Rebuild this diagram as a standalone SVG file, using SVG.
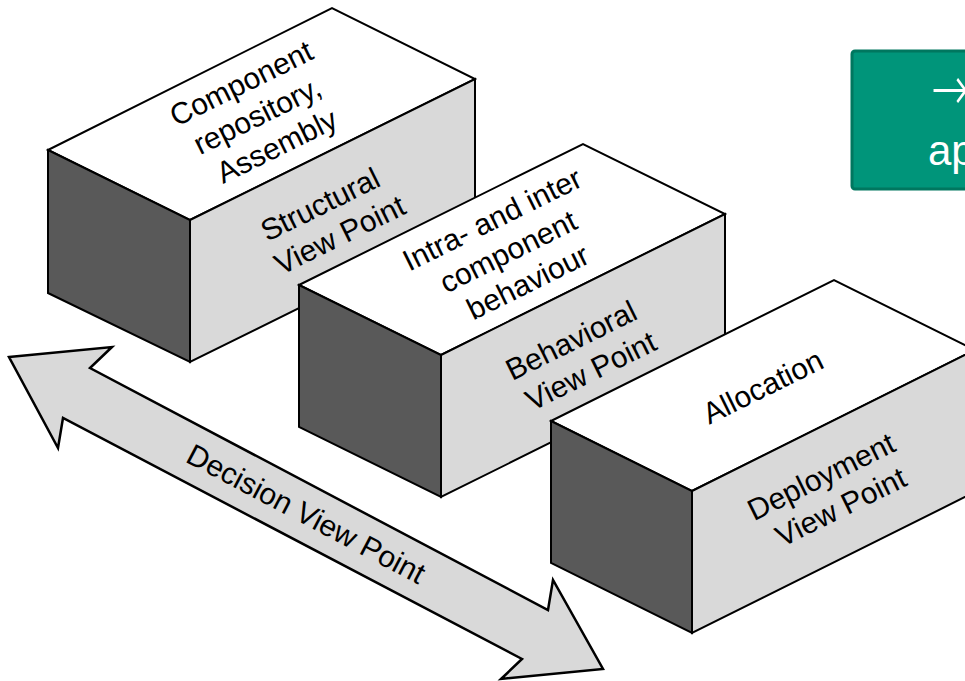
<svg xmlns="http://www.w3.org/2000/svg" width="965" height="681" viewBox="0 0 965 681">
  <style>
    .edge { stroke: #000; stroke-width: 2; stroke-linejoin: miter; }
    .top { fill: #ffffff; }
    .side { fill: #595959; }
    .front { fill: #d9d9d9; }
    .lbl { font-family: "Liberation Sans", Arial, sans-serif; font-size: 30px; fill: #000; text-anchor: middle; }
    .arrowbody { fill: #d9d9d9; stroke: #000; stroke-width: 2.5; stroke-linejoin: miter; }
  </style>

  <!-- teal note box at the top right -->
  <g id="note">
    <rect x="852" y="51" width="130" height="138" rx="3" fill="#00957a" stroke="#00775f" stroke-width="3"/>
    <text x="931" y="110" font-family="DejaVu Sans, sans-serif" font-weight="200" font-size="62" fill="#fff" textLength="38" lengthAdjust="spacingAndGlyphs">→</text>
    <text x="928" y="165" font-family="Liberation Sans, Arial, sans-serif" font-size="42" fill="#fff">ap</text>
  </g>

  <!-- Decision view point double arrow -->
  <g id="decision">
    <polygon class="arrowbody" points="9,357 112,347 90,368 548,610 553,580 603,669 501,679 522,659 63,418 58,448"/>
    <text class="lbl" transform="translate(306,514) rotate(27.8)" y="10">Decision View Point</text>
  </g>

  <!-- Structural view point block -->
  <g id="structural">
    <polygon class="top edge" points="48,150 332,8 475,79 190,220"/>
    <polygon class="side edge" points="48,150 190,220 190,362 48,293"/>
    <polygon class="front edge" points="190,220 475,79 475,221 190,362"/>
    <text class="lbl" transform="translate(261,114) rotate(-26.3)">
      <tspan x="0" y="-26">Component</tspan>
      <tspan x="0" y="10">repository,</tspan>
      <tspan x="0" y="46">Assembly</tspan>
    </text>
    <text class="lbl" transform="translate(332,219) rotate(-26.3)">
      <tspan x="0" y="-8">Structural</tspan>
      <tspan x="0" y="28">View Point</tspan>
    </text>
  </g>

  <!-- Behavioral view point block -->
  <g id="behavioral">
    <polygon class="top edge" points="299,285 583,144 725,214 441,355"/>
    <polygon class="side edge" points="299,285 441,355 441,497 299,427"/>
    <polygon class="front edge" points="441,355 725,214 725,356 441,497"/>
    <text class="lbl" transform="translate(512,250) rotate(-26.3)">
      <tspan x="0" y="-26">Intra- and inter</tspan>
      <tspan x="0" y="10">component</tspan>
      <tspan x="0" y="46">behaviour</tspan>
    </text>
    <text class="lbl" transform="translate(583,355) rotate(-26.3)">
      <tspan x="0" y="-8">Behavioral</tspan>
      <tspan x="0" y="28">View Point</tspan>
    </text>
  </g>

  <!-- Deployment view point block -->
  <g id="deployment">
    <polygon class="top edge" points="551,421 834,280 975,350 692,491"/>
    <polygon class="side edge" points="551,421 692,491 692,633 551,563"/>
    <polygon class="front edge" points="692,491 975,350 975,492 692,633"/>
    <text class="lbl" transform="translate(763,387) rotate(-26.3)" y="10">Allocation</text>
    <text class="lbl" transform="translate(833,491) rotate(-26.3)">
      <tspan x="0" y="-8">Deployment</tspan>
      <tspan x="0" y="28">View Point</tspan>
    </text>
  </g>
</svg>
